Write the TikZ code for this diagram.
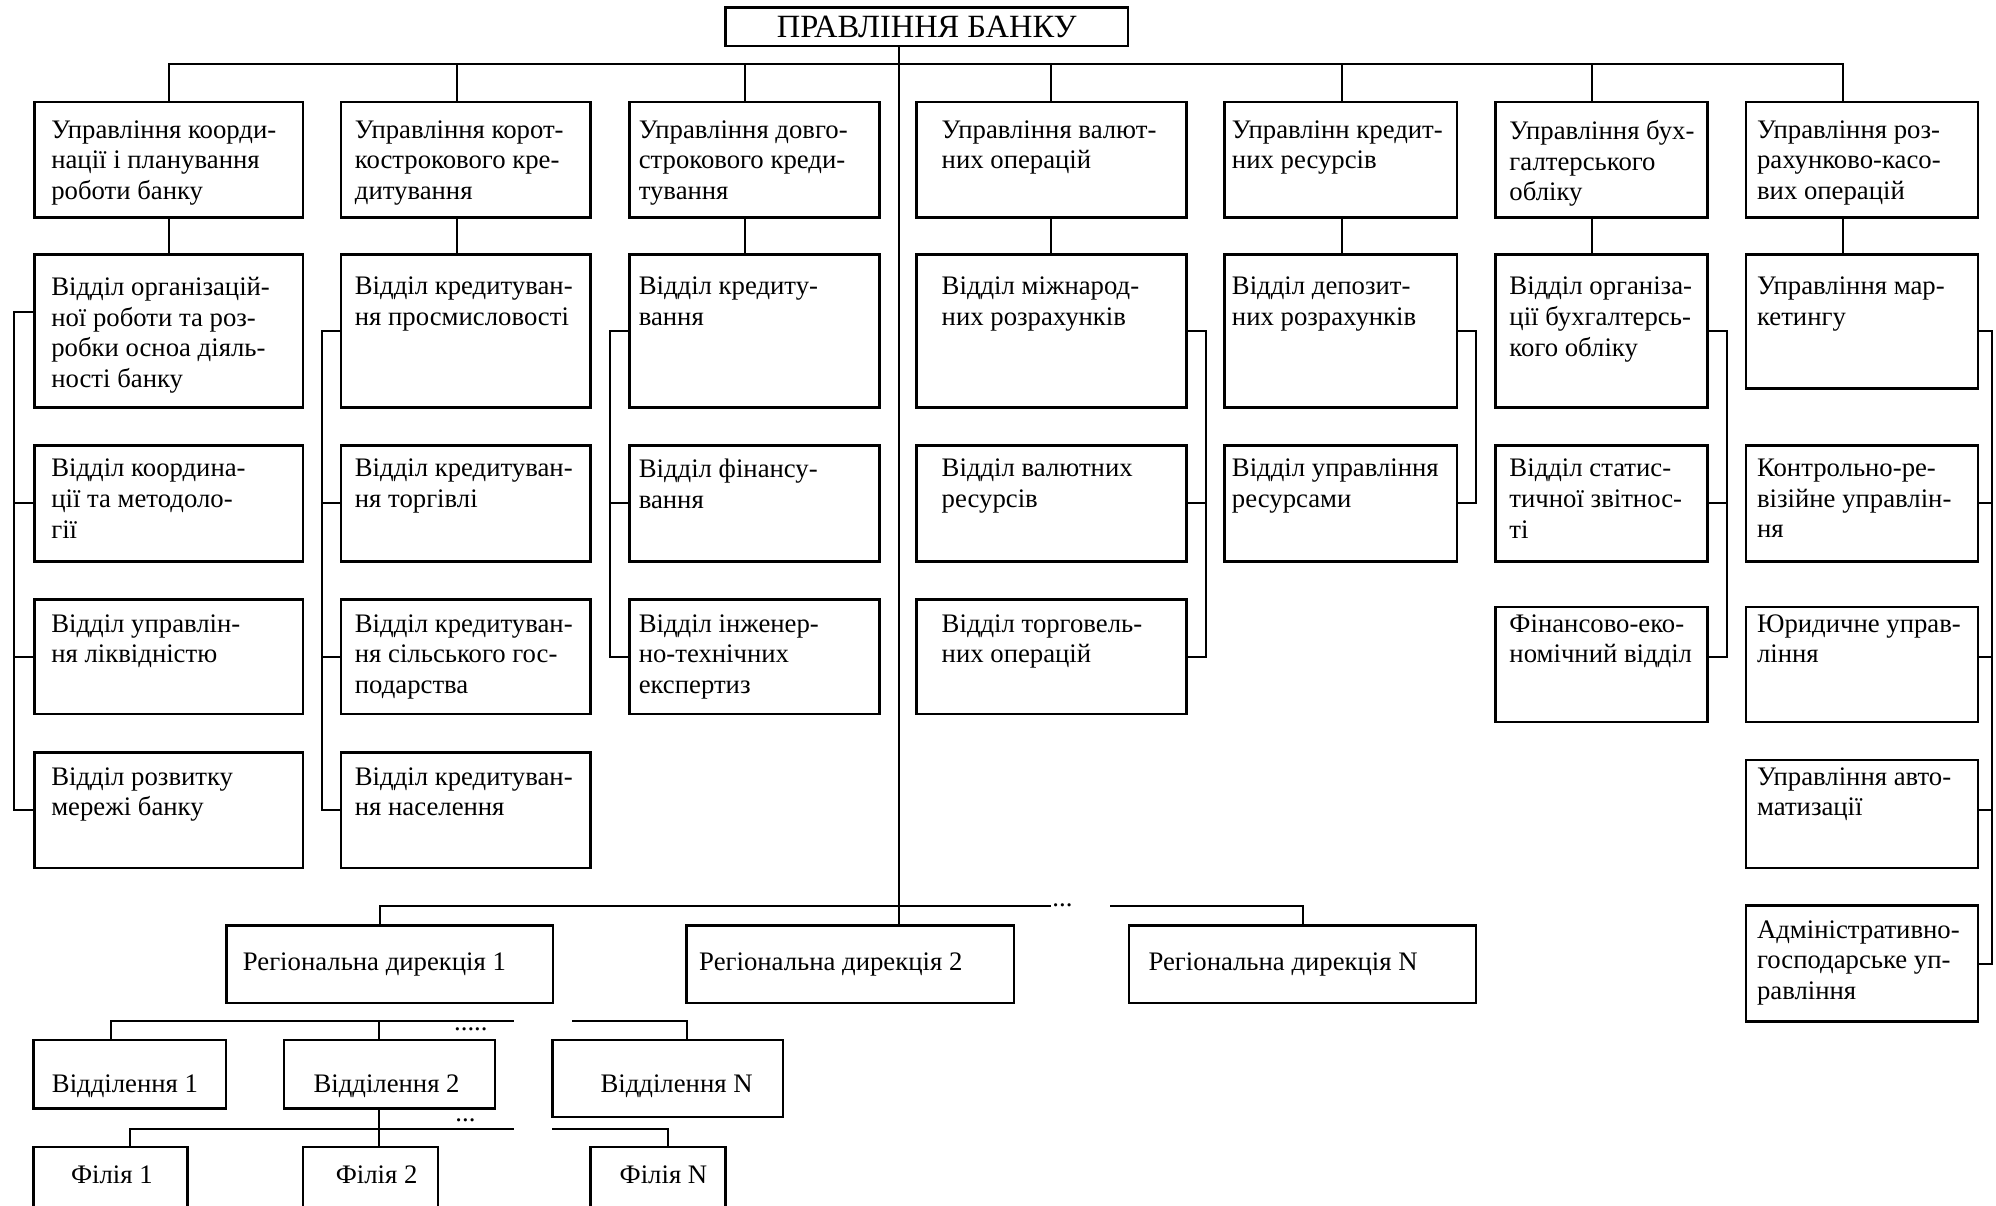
\documentclass[tikz,border=0pt]{standalone}
\usepackage{fontspec}
\setmainfont{Liberation Serif}
\begin{document}
\begin{tikzpicture}[x=1pt,y=-1pt,line width=1.6pt,
      unit/.style={draw,line width=2pt,anchor=north west,inner sep=0pt,outer sep=0pt},
      caption/.style={anchor=north west,align=left,inner sep=0pt,
        font=\fontsize{21}{24}\selectfont,execute at begin node=\strut},
      dots/.style={inner sep=0pt,font=\fontsize{21}{24}\selectfont}]
  \useasboundingbox (0,0) rectangle (1568,947);
  % board
  \node[unit,minimum width=316pt,minimum height=30pt,font=\fontsize{25.5}{28}\selectfont]
    (board) at (570,6) {ПРАВЛІННЯ БАНКУ};
  % first row
  \node[unit,minimum width=211pt,minimum height=91pt] (a1) at (27,80) {};
  \node[unit,minimum width=196pt,minimum height=91pt] (a2) at (268,80) {};
  \node[unit,minimum width=196.5pt,minimum height=91pt] (a3) at (494.5,80) {};
  \node[unit,minimum width=212pt,minimum height=91pt] (a4) at (720,80) {};
  \node[unit,minimum width=182.5pt,minimum height=91pt] (a5) at (962,80) {};
  \node[unit,minimum width=166.5pt,minimum height=91pt] (a6) at (1175,80) {};
  \node[unit,minimum width=182.5pt,minimum height=91pt] (a7) at (1371.5,80) {};
  \node[caption] (a1t) at ([shift={(12.5,14)}]a1.north west) {Управління коорди-\\нації і планування\\роботи банку};
  \node[caption] (a2t) at ([shift={(10,14)}]a2.north west) {Управління корот-\\кострокового кре-\\дитування};
  \node[caption] (a3t) at ([shift={(6.5,14)}]a3.north west) {Управління довго-\\строкового креди-\\тування};
  \node[caption] (a4t) at ([shift={(19,14)}]a4.north west) {Управління валют-\\них операцій};
  \node[caption] (a5t) at ([shift={(5,14)}]a5.north west) {Управлінн кредит-\\них ресурсів};
  \node[caption] (a6t) at ([shift={(10,14)}]a6.north west) {Управління бух-\\галтерського\\обліку};
  \node[caption] (a7t) at ([shift={(8,14)}]a7.north west) {Управління роз-\\рахунково-касо-\\вих операцій};
  % second row
  \node[unit,minimum width=211pt,minimum height=120pt] (b1) at (27,200) {};
  \node[unit,minimum width=196pt,minimum height=120pt] (b2) at (268,200) {};
  \node[unit,minimum width=196.5pt,minimum height=120pt] (b3) at (494.5,200) {};
  \node[unit,minimum width=212pt,minimum height=120pt] (b4) at (720,200) {};
  \node[unit,minimum width=182.5pt,minimum height=120pt] (b5) at (962,200) {};
  \node[unit,minimum width=166.5pt,minimum height=120pt] (b6) at (1175,200) {};
  \node[unit,minimum width=182.5pt,minimum height=105pt] (b7) at (1371.5,200) {};
  \node[caption] (b1t) at ([shift={(12.5,17)}]b1.north west) {Відділ організацій-\\ної роботи та роз-\\робки осноа діяль-\\ності банку};
  \node[caption] (b2t) at ([shift={(10,17)}]b2.north west) {Відділ кредитуван-\\ня просмисловості};
  \node[caption] (b3t) at ([shift={(6.5,17)}]b3.north west) {Відділ кредиту-\\вання};
  \node[caption] (b4t) at ([shift={(19,17)}]b4.north west) {Відділ міжнарод-\\них розрахунків};
  \node[caption] (b5t) at ([shift={(5,17)}]b5.north west) {Відділ депозит-\\них розрахунків};
  \node[caption] (b6t) at ([shift={(10,17)}]b6.north west) {Відділ організа-\\ції бухгалтерсь-\\кого обліку};
  \node[caption] (b7t) at ([shift={(8,17)}]b7.north west) {Управління мар-\\кетингу};
  % third row
  \node[unit,minimum width=211pt,minimum height=91pt] (c1) at (27,350) {};
  \node[unit,minimum width=196pt,minimum height=91pt] (c2) at (268,350) {};
  \node[unit,minimum width=196.5pt,minimum height=91pt] (c3) at (494.5,350) {};
  \node[unit,minimum width=212pt,minimum height=91pt] (c4) at (720,350) {};
  \node[unit,minimum width=182.5pt,minimum height=91pt] (c5) at (962,350) {};
  \node[unit,minimum width=166.5pt,minimum height=91pt] (c6) at (1175,350) {};
  \node[unit,minimum width=182.5pt,minimum height=91pt] (c7) at (1371.5,350) {};
  \node[caption] (c1t) at ([shift={(12.5,10)}]c1.north west) {Відділ координа-\\ції та методоло-\\гії};
  \node[caption] (c2t) at ([shift={(10,10)}]c2.north west) {Відділ кредитуван-\\ня торгівлі};
  \node[caption] (c3t) at ([shift={(6.5,10)}]c3.north west) {Відділ фінансу-\\вання};
  \node[caption] (c4t) at ([shift={(19,10)}]c4.north west) {Відділ валютних\\ресурсів};
  \node[caption] (c5t) at ([shift={(5,10)}]c5.north west) {Відділ управління\\ресурсами};
  \node[caption] (c6t) at ([shift={(10,10)}]c6.north west) {Відділ статис-\\тичної звітнос-\\ті};
  \node[caption] (c7t) at ([shift={(8,10)}]c7.north west) {Контрольно-ре-\\візійне управлін-\\ня};
  % fourth row
  \node[unit,minimum width=211pt,minimum height=90pt] (d1) at (27,471) {};
  \node[unit,minimum width=196pt,minimum height=90pt] (d2) at (268,471) {};
  \node[unit,minimum width=196.5pt,minimum height=90pt] (d3) at (494.5,471) {};
  \node[unit,minimum width=212pt,minimum height=90pt] (d4) at (720,471) {};
  \node[unit,minimum width=166.5pt,minimum height=90pt] (d6) at (1175,477) {};
  \node[unit,minimum width=182.5pt,minimum height=90pt] (d7) at (1371.5,477) {};
  \node[caption] (d1t) at ([shift={(12.5,11)}]d1.north west) {Відділ управлін-\\ня ліквідністю};
  \node[caption] (d2t) at ([shift={(10,11)}]d2.north west) {Відділ кредитуван-\\ня сільського гос-\\подарства};
  \node[caption] (d3t) at ([shift={(6.5,11)}]d3.north west) {Відділ інженер-\\но-технічних\\експертиз};
  \node[caption] (d4t) at ([shift={(19,11)}]d4.north west) {Відділ торговель-\\них операцій};
  \node[caption] (d6t) at ([shift={(10,5)}]d6.north west) {Фінансово-еко-\\номічний відділ};
  \node[caption] (d7t) at ([shift={(8,5)}]d7.north west) {Юридичне управ-\\ління};
  % fifth and sixth rows
  \node[unit,minimum width=211pt,minimum height=91pt] (e1) at (27,591) {};
  \node[unit,minimum width=196pt,minimum height=91pt] (e2) at (268,591) {};
  \node[unit,minimum width=182.5pt,minimum height=85pt] (e7) at (1371.5,597) {};
  \node[unit,minimum width=182.5pt,minimum height=91pt] (f7) at (1371.5,711.5) {};
  \node[caption] (e1t) at ([shift={(12.5,11)}]e1.north west) {Відділ розвитку\\мережі банку};
  \node[caption] (e2t) at ([shift={(10,11)}]e2.north west) {Відділ кредитуван-\\ня населення};
  \node[caption] (e7t) at ([shift={(8,5)}]e7.north west) {Управління авто-\\матизації};
  \node[caption] (f7t) at ([shift={(8,11)}]f7.north west) {Адміністративно-\\господарське уп-\\равління};
  % regional directions, branches, filials
  \node[unit,minimum width=256.5pt,minimum height=61pt] (rd1) at (178,727) {};
  \node[unit,minimum width=257pt,minimum height=61pt] (rd2) at (539.5,727) {};
  \node[unit,minimum width=272.5pt,minimum height=61pt] (rdN) at (887,727) {};
  \node[caption] (rd1t) at ([shift={(12,17.5)}]rd1.north west) {Регіональна дирекція 1};
  \node[caption] (rd2t) at ([shift={(9,17.5)}]rd2.north west) {Регіональна дирекція 2};
  \node[caption] (rdNt) at ([shift={(14.5,17.5)}]rdN.north west) {Регіональна дирекція N};
  \node[unit,minimum width=151pt,minimum height=54pt] (vd1) at (26.5,817) {};
  \node[unit,minimum width=166pt,minimum height=54pt] (vd2) at (223,817) {};
  \node[unit,minimum width=181pt,minimum height=60.5pt] (vdN) at (434,817) {};
  \node[caption] (vd1t) at ([shift={(13.5,23.5)}]vd1.north west) {Відділення 1};
  \node[caption] (vd2t) at ([shift={(22.5,23.5)}]vd2.north west) {Відділення 2};
  \node[caption] (vdNt) at ([shift={(37,23.5)}]vdN.north west) {Відділення N};
  \node[unit,minimum width=121pt,minimum height=48pt] (fl1) at (26.5,901) {};
  \node[unit,minimum width=106pt,minimum height=48pt] (fl2) at (238,901) {};
  \node[unit,minimum width=106pt,minimum height=48pt] (flN) at (464,901) {};
  \node[caption] (fl1t) at ([shift={(28.5,11)}]fl1.north west) {Філія 1};
  \node[caption] (fl2t) at ([shift={(25,11)}]fl2.north west) {Філія 2};
  \node[caption] (flNt) at ([shift={(22,11)}]flN.north west) {Філія N};
  % connectors
  \coordinate (spine) at (706,50);
  \coordinate (gapL) at (826,712);
  \coordinate (gapR) at (872,712);
  \coordinate (vgapL) at (404,802.3);
  \coordinate (vgapR) at (449.5,802.3);
  \coordinate (fgapL) at (404,886.6);
  \coordinate (fgapR) at (434,886.6);
  \draw (board.south -| spine) -- (rd2.north -| spine);
  \foreach \c/\s in {1/0,2/-7,3/-7.5,4/0,5/1,6/-7.5,7/-15}{
    \draw ([xshift=\s pt]a\c.north) |- (spine);
    \draw ([xshift=\s pt]a\c.south) -- ([xshift=\s pt]b\c.north);
  }
  \coordinate (rail1) at (11,0);
  \coordinate (rail2) at (253,0);
  \coordinate (rail3) at (479.5,0);
  \coordinate (rail4) at (947.5,0);
  \coordinate (rail5) at (1159.5,0);
  \coordinate (rail6) at (1356.5,0);
  \coordinate (rail7) at (1565,0);
  \draw ([yshift=15pt]b1.west) -| (rail1 |- e1.west) -- (e1.west);
  \draw (c1.west) -- (rail1 |- c1.west) (d1.west) -- (rail1 |- d1.west);
  \draw (b2.west) -| (rail2 |- e2.west) -- (e2.west);
  \draw (c2.west) -- (rail2 |- c2.west) (d2.west) -- (rail2 |- d2.west);
  \draw (b3.west) -| (rail3 |- d3.west) -- (d3.west);
  \draw (c3.west) -- (rail3 |- c3.west);
  \draw (b4.east) -| (rail4 |- d4.east) -- (d4.east);
  \draw (c4.east) -- (rail4 |- c4.east);
  \draw (b5.east) -| (rail5 |- c5.east) -- (c5.east);
  \draw (b6.east) -| (rail6 |- d4.east) -- (d6.east |- d4.east);
  \draw (c6.east) -- (rail6 |- c6.east);
  \draw (b7.east |- b6.east) -| (rail7 |- f7.east) -- (f7.east);
  \draw (c7.east) -- (rail7 |- c7.east) (d7.east |- d4.east) -- (rail7 |- d4.east)
    (e7.east |- e1.east) -- (rail7 |- e1.east);
  \draw ([xshift=-8pt]rd1.north) |- (gapL);
  \draw (rdN.north) |- (gapR);
  \node[dots,anchor=base west] (rdots) at (gapL) {...};
  \draw ([xshift=-15pt]vd1.north) |- (vgapL);
  \draw ([xshift=-8pt]vd2.north) |- (vgapL);
  \draw ([xshift=15pt]vdN.north) |- (vgapR);
  \node[dots,anchor=base west] (vdots) at ([shift={(-48,7)}]vgapL) {.....};
  \draw ([xshift=15.5pt]fl1.north) |- (fgapL);
  \draw ([xshift=7pt]fl2.north) -- ([xshift=-8pt]vd2.south);
  \draw ([xshift=7.5pt]flN.north) |- (fgapR);
  \node[dots,anchor=base west] (fdots) at ([shift={(-47,-5.5)}]fgapL) {...};
\end{tikzpicture}
\end{document}
